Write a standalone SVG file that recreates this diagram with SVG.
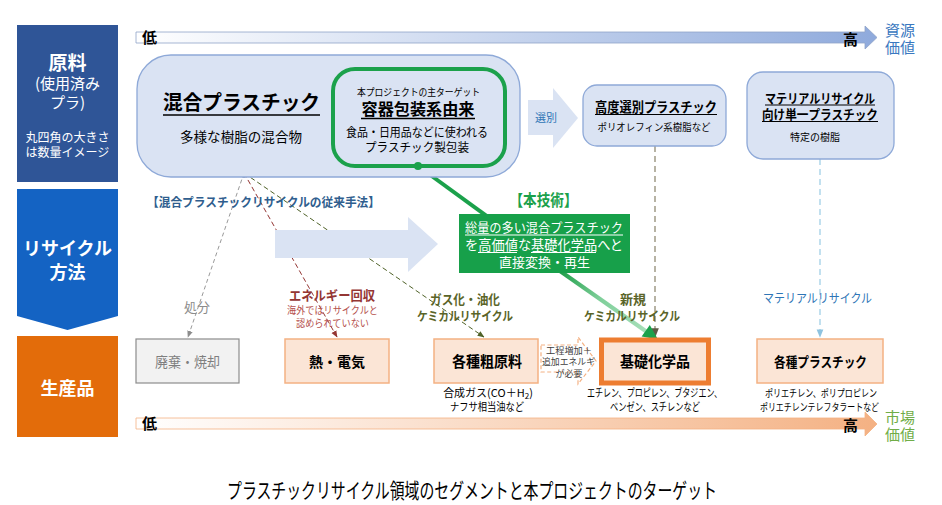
<svg xmlns="http://www.w3.org/2000/svg" width="942" height="505" viewBox="0 0 942 505">
<defs>
<linearGradient id="gTop" x1="136" y1="0" x2="877" y2="0" gradientUnits="userSpaceOnUse">
<stop offset="0" stop-color="#FFFFFF"/><stop offset="1" stop-color="#8FAADC"/>
</linearGradient>
<linearGradient id="gBot" x1="136" y1="0" x2="877" y2="0" gradientUnits="userSpaceOnUse">
<stop offset="0" stop-color="#FFFFFF"/><stop offset="1" stop-color="#F4B183"/>
</linearGradient>
<linearGradient id="gGreen" x1="560" y1="271" x2="648" y2="333" gradientUnits="userSpaceOnUse">
<stop offset="0" stop-color="#1E9E48"/><stop offset="0.45" stop-color="#7FCF9A"/><stop offset="1" stop-color="#A9E0BB"/>
</linearGradient>
<marker id="mGray" viewBox="0 0 10 10" refX="9" refY="5" markerWidth="7" markerHeight="7" orient="auto"><path d="M0,1 L10,5 L0,9 z" fill="#8C8C8C"/></marker>
<marker id="mRed" viewBox="0 0 10 10" refX="9" refY="5" markerWidth="7" markerHeight="7" orient="auto"><path d="M0,1 L10,5 L0,9 z" fill="#943634"/></marker>
<marker id="mOlive" viewBox="0 0 10 10" refX="9" refY="5" markerWidth="7" markerHeight="7" orient="auto"><path d="M0,1 L10,5 L0,9 z" fill="#4F6228"/></marker>
<marker id="mTaupe" viewBox="0 0 10 10" refX="9" refY="5" markerWidth="6" markerHeight="6" orient="auto"><path d="M0,1 L10,5 L0,9 z" fill="#5C5A45"/></marker>
<marker id="mBlue" viewBox="0 0 10 10" refX="9" refY="5" markerWidth="6" markerHeight="6" orient="auto"><path d="M0,1 L10,5 L0,9 z" fill="#8EC3E0"/></marker>
</defs>
<style>
text{font-family:"Noto Sans CJK JP","Noto Sans",sans-serif;fill:#000}
.w{fill:#fff}
.b{font-weight:bold}
.c{text-anchor:middle}
.pale{fill:#DAE3F3;stroke:#8EA9D8;stroke-width:1.3}
.peach{fill:#FBE5D6;stroke:#F4B183;stroke-width:1.5}
</style>

<!-- left lanes -->
<g id="lane-genryo">
<rect x="17" y="25" width="101" height="157" fill="#2F5597"/>
<text class="w b c" x="67.5" y="70" font-size="19">原料</text>
<text class="w c" x="67.5" y="89" font-size="15">(使用済み</text>
<text class="w c" x="67.5" y="108" font-size="15">プラ)</text>
<text class="w c" x="67.5" y="141.5" font-size="12">丸四角の大きさ</text>
<text class="w c" x="67.5" y="156.5" font-size="12">は数量イメージ</text>
</g>
<g id="lane-recycle">
<path d="M17,189 H118 V316 L67.5,330 L17,316 Z" fill="#1463C3"/>
<text class="w b c" x="67.5" y="255" font-size="18">リサイクル</text>
<text class="w b c" x="67.5" y="279" font-size="18">方法</text>
</g>
<g id="lane-product">
<rect x="17" y="336" width="101" height="101" fill="#E36C0A"/>
<text class="w b c" x="67.5" y="395" font-size="18">生産品</text>
</g>

<!-- axes -->
<g id="axis-resource">
<polygon points="136,32 865,32 865,26 877,37.5 865,49 865,43 136,43" fill="url(#gTop)" stroke="#8FA3C8" stroke-width="0.8"/>
<text class="b" x="142" y="43" font-size="15">低</text>
<text class="b" x="843" y="44.5" font-size="15">高</text>
<text x="885" y="36" font-size="15" style="fill:#3A78C0">資源</text>
<text x="885" y="53" font-size="15" style="fill:#3A78C0">価値</text>
</g>
<g id="axis-market">
<polygon points="136,418 865,418 865,412 877,424 865,436 865,429 136,429" fill="url(#gBot)" stroke="#F4B183" stroke-width="0.8"/>
<text class="b" x="142" y="429" font-size="15">低</text>
<text class="b" x="843" y="431" font-size="15">高</text>
<text x="885" y="423" font-size="15" style="fill:#70AD47">市場</text>
<text x="885" y="440" font-size="15" style="fill:#70AD47">価値</text>
</g>

<!-- connectors -->
<g id="connectors" fill="none">
<line x1="244" y1="173" x2="188" y2="337" stroke="#999999" stroke-width="1" stroke-dasharray="4 3" marker-end="url(#mGray)"/>
<line x1="244" y1="173" x2="337" y2="337" stroke="#943634" stroke-width="1" stroke-dasharray="5 3" marker-end="url(#mRed)"/>
<line x1="244" y1="173" x2="484" y2="337" stroke="#4F6228" stroke-width="1" stroke-dasharray="5 3" marker-end="url(#mOlive)"/>
<line x1="655" y1="146" x2="655" y2="337" stroke="#A5A08E" stroke-width="1.6" stroke-dasharray="6 4" marker-end="url(#mTaupe)"/>
<line x1="820" y1="159" x2="820" y2="337" stroke="#A9D3E8" stroke-width="1.4" stroke-dasharray="6 4" marker-end="url(#mBlue)"/>
<line x1="418" y1="166" x2="562" y2="271" stroke="#1BA14B" stroke-width="4"/>
<line x1="560" y1="271" x2="647" y2="332" stroke="url(#gGreen)" stroke-width="4"/>
<polygon points="658,339.5 641.6,336.5 649.8,325.1" fill="#1BA14B"/>
<circle cx="244" cy="173" r="4.5" fill="#1F3864"/>
</g>

<!-- big arrow (conventional -> new) -->
<g id="big-arrow">
<polygon points="275,230 408,230 408,217 438,244 408,272 408,258 275,258" fill="#DAE3F3"/>
</g>

<!-- raw material nodes -->
<g id="node-mixed">
<rect class="pale" x="137" y="55" width="383" height="122" rx="34"/>
<text class="b c" x="241.5" y="110" font-size="20.5" textLength="157" lengthAdjust="spacingAndGlyphs">混合プラスチック</text>
<line x1="163" y1="115" x2="320" y2="115" stroke="#000" stroke-width="1.5"/>
<text class="c" x="241" y="142" font-size="13.5" textLength="122" lengthAdjust="spacingAndGlyphs">多様な樹脂の混合物</text>
</g>
<g id="node-packaging">
<rect x="333" y="69" width="172" height="97" rx="22" fill="#DAE3F3" stroke="#1BA14B" stroke-width="4"/>
<text class="c" x="418.5" y="96" font-size="10" textLength="123" lengthAdjust="spacingAndGlyphs">本プロジェクトの主ターゲット</text>
<text class="b c" x="418" y="115" font-size="16" textLength="113" lengthAdjust="spacingAndGlyphs">容器包装系由来</text>
<line x1="361" y1="118.5" x2="475" y2="118.5" stroke="#000" stroke-width="1.3"/>
<text class="c" x="417" y="136.5" font-size="12" textLength="142" lengthAdjust="spacingAndGlyphs">食品・日用品などに使われる</text>
<text class="c" x="417" y="151.5" font-size="12" textLength="104" lengthAdjust="spacingAndGlyphs">プラスチック製包装</text>
<circle cx="418" cy="166" r="4" fill="#1BA14B"/>
</g>
<g id="arrow-sort">
<polygon points="528,100 553,100 553,88 578,118 553,148 553,135 528,135" fill="#DAE3F3"/>
<text class="c" x="546" y="122" font-size="11" style="fill:#2E75B6">選別</text>
</g>
<g id="node-sorted">
<rect class="pale" x="583" y="85" width="143" height="61" rx="14"/>
<text class="b c" x="656" y="112" font-size="13.5" textLength="122" lengthAdjust="spacingAndGlyphs">高度選別プラスチック</text>
<line x1="595" y1="114.5" x2="717" y2="114.5" stroke="#000" stroke-width="1.2"/>
<text class="c" x="654" y="131" font-size="10" textLength="113" lengthAdjust="spacingAndGlyphs">ポリオレフィン系樹脂など</text>
</g>
<g id="node-single">
<rect class="pale" x="747" y="72" width="147" height="87" rx="16"/>
<text class="b c" x="820" y="102.5" font-size="13" textLength="110" lengthAdjust="spacingAndGlyphs">マテリアルリサイクル</text>
<line x1="765" y1="105" x2="875" y2="105" stroke="#000" stroke-width="1.2"/>
<text class="b c" x="820" y="119" font-size="13" textLength="116" lengthAdjust="spacingAndGlyphs">向け単一プラスチック</text>
<line x1="762" y1="121.5" x2="878" y2="121.5" stroke="#000" stroke-width="1.2"/>
<text class="c" x="815" y="140.5" font-size="10">特定の樹脂</text>
</g>

<!-- method labels -->
<g id="label-conventional">
<text class="b" x="147" y="207" font-size="12.5" textLength="233" lengthAdjust="spacingAndGlyphs" style="fill:#2F5E8E">【混合プラスチックリサイクルの従来手法】</text>
</g>
<g id="node-tech">
<text class="b c" x="543.5" y="206" font-size="15.5" textLength="68" lengthAdjust="spacingAndGlyphs" style="fill:#1BA14B">【本技術】</text>
<rect x="459" y="214" width="171" height="59" fill="#17A04A"/>
<text class="w" x="465" y="232" font-size="13" textLength="158" lengthAdjust="spacingAndGlyphs">総量の多い混合プラスチック</text>
<line x1="465" y1="235" x2="623" y2="235" stroke="#fff" stroke-width="1.2"/>
<text class="w" x="465" y="249.5" font-size="13.5" textLength="158" lengthAdjust="spacingAndGlyphs">を高価値な基礎化学品へと</text>
<line x1="478" y1="252.5" x2="517" y2="252.5" stroke="#fff" stroke-width="1.2"/>
<line x1="531" y1="252.5" x2="596" y2="252.5" stroke="#fff" stroke-width="1.2"/>
<text class="w c" x="544.5" y="267" font-size="13" textLength="91" lengthAdjust="spacingAndGlyphs">直接変換・再生</text>
</g>
<g id="label-disposal">
<text class="c" x="197" y="312" font-size="13" style="fill:#8C8C8C">処分</text>
</g>
<g id="label-energy">
<text class="b c" x="332" y="300" font-size="13" textLength="86" lengthAdjust="spacingAndGlyphs" style="fill:#943634">エネルギー回収</text>
<text class="c" x="332.5" y="314" font-size="10" textLength="91" lengthAdjust="spacingAndGlyphs" style="fill:#B5504C">海外ではリサイクルと</text>
<text class="c" x="332.5" y="327" font-size="10" textLength="73" lengthAdjust="spacingAndGlyphs" style="fill:#B5504C">認められていない</text>
</g>
<g id="label-gas">
<text class="b c" x="465" y="304" font-size="13" textLength="70" lengthAdjust="spacingAndGlyphs" style="fill:#5A6428">ガス化・油化</text>
<text class="b c" x="465" y="321" font-size="12.5" textLength="96" lengthAdjust="spacingAndGlyphs" style="fill:#5A6428">ケミカルリサイクル</text>
</g>
<g id="label-new">
<text class="b c" x="633" y="304" font-size="13" style="fill:#5A6428">新規</text>
<text class="b c" x="632" y="321" font-size="12.5" textLength="96" lengthAdjust="spacingAndGlyphs" style="fill:#5A6428">ケミカルリサイクル</text>
</g>
<g id="label-material">
<text class="c" x="817.5" y="303" font-size="12.5" textLength="109" lengthAdjust="spacingAndGlyphs" style="fill:#2E75B6">マテリアルリサイクル</text>
</g>

<!-- product nodes -->
<g id="node-waste">
<rect x="136" y="339" width="103" height="44" fill="#F2F2F2" stroke="#8C8C8C" stroke-width="1.2"/>
<text class="c" x="187.5" y="366.5" font-size="14" textLength="65" lengthAdjust="spacingAndGlyphs" style="fill:#7F7F7F">廃棄・焼却</text>
</g>
<g id="node-heat">
<rect class="peach" x="285" y="339" width="104" height="44"/>
<text class="b c" x="337" y="366.5" font-size="14">熱・電気</text>
</g>
<g id="node-crude">
<rect class="peach" x="434" y="339" width="104" height="44"/>
<text class="b c" x="487" y="367" font-size="15" textLength="70" lengthAdjust="spacingAndGlyphs">各種粗原料</text>
<text class="c" x="488" y="397" font-size="11">合成ガス(CO＋H<tspan font-size="8" dy="2">2</tspan><tspan dy="-2">)</tspan></text>
<text class="c" x="487" y="411" font-size="11" textLength="74" lengthAdjust="spacingAndGlyphs">ナフサ相当油など</text>
</g>
<g id="arrow-extra">
<polygon points="541,345 578,345 578,337 596,361 578,384 578,372 541,372" fill="#FFFFFF" stroke="#F4B183" stroke-width="1.2" stroke-dasharray="4 2.5"/>
<text class="c" x="569" y="353.5" font-size="9" textLength="46" lengthAdjust="spacingAndGlyphs" style="fill:#404040">工程増加＋</text>
<text class="c" x="568.5" y="365" font-size="9" textLength="53" lengthAdjust="spacingAndGlyphs" style="fill:#404040">追加エネルギ</text>
<text class="c" x="569" y="376.5" font-size="9" style="fill:#404040">が必要</text>
</g>
<g id="node-basic">
<rect x="601.5" y="340" width="107" height="43" fill="#FBE5D6" stroke="#ED7D31" stroke-width="5"/>
<text class="b c" x="655" y="367" font-size="15" textLength="70" lengthAdjust="spacingAndGlyphs">基礎化学品</text>
<text class="c" x="654.5" y="397" font-size="11" textLength="135" lengthAdjust="spacingAndGlyphs">エチレン、プロピレン、ブタジエン、</text>
<text class="c" x="655" y="411" font-size="11" textLength="90" lengthAdjust="spacingAndGlyphs">ベンゼン、スチレンなど</text>
</g>
<g id="node-plastics">
<rect class="peach" x="757" y="339" width="126" height="44"/>
<text class="b c" x="820.5" y="367" font-size="14" textLength="93" lengthAdjust="spacingAndGlyphs">各種プラスチック</text>
<text class="c" x="821" y="397" font-size="10.5" textLength="112" lengthAdjust="spacingAndGlyphs">ポリエチレン、ポリプロピレン</text>
<text class="c" x="819.5" y="411" font-size="10.5" textLength="119" lengthAdjust="spacingAndGlyphs">ポリエチレンテレフタラートなど</text>
</g>

<g id="caption">
<text class="c" x="472" y="498" font-size="21" textLength="490" lengthAdjust="spacingAndGlyphs">プラスチックリサイクル領域のセグメントと本プロジェクトのターゲット</text>
</g>
</svg>
